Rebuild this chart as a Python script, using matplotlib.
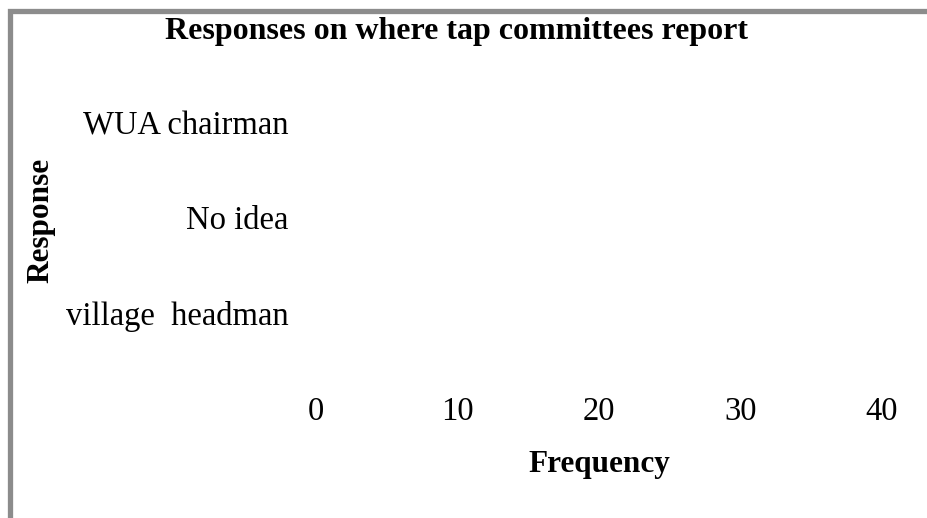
import matplotlib
matplotlib.use('Agg')
import matplotlib.pyplot as plt
from matplotlib.patches import Rectangle

plt.rcParams['font.family'] = ['Liberation Serif', 'DejaVu Serif']

responses = ["village  headman", "No idea", "WUA chairman"]
freq_ticks = [0, 10, 20, 30, 40]

W, H = 928, 518
fig = plt.figure(figsize=(W / 100, H / 100), dpi=100)
ax = fig.add_axes([316 / W, 1 - 360 / H, (882 - 316) / W, (360 - 75) / H])

# category axis, bottom to top
ax.set_ylim(-0.5, len(responses) - 0.5)
ax.set_yticks(range(len(responses)))
ax.set_yticklabels(responses)
ax.set_xlim(freq_ticks[0], freq_ticks[-1])
ax.set_xticks(freq_ticks)
ax.tick_params(axis='both', length=0, labelsize=23.5)
ax.tick_params(axis='x', pad=26)
ax.tick_params(axis='y', pad=20)
for s in ax.spines.values():
    s.set_visible(False)

ax.set_xlabel("Frequency", fontsize=22.5, fontweight='bold', labelpad=17)
fig.text(41 / W, 1 - 220 / H, "Response", rotation=90, fontsize=22.5,
         fontweight='bold', ha='center', va='center')
fig.text(457 / W, 1 - 31 / H, "Responses on where tap committees report",
         fontsize=23, fontweight='bold', ha='center', va='center')

# chart-area frame, cut off at the right and bottom
fig.add_artist(Rectangle((10.5 / W, -0.2), 1.2, 1.2 - 10.5 / H,
                         transform=fig.transFigure, fill=False,
                         edgecolor='#8c8c8c', linewidth=3.8))

fig.savefig("out.png", dpi=100)
